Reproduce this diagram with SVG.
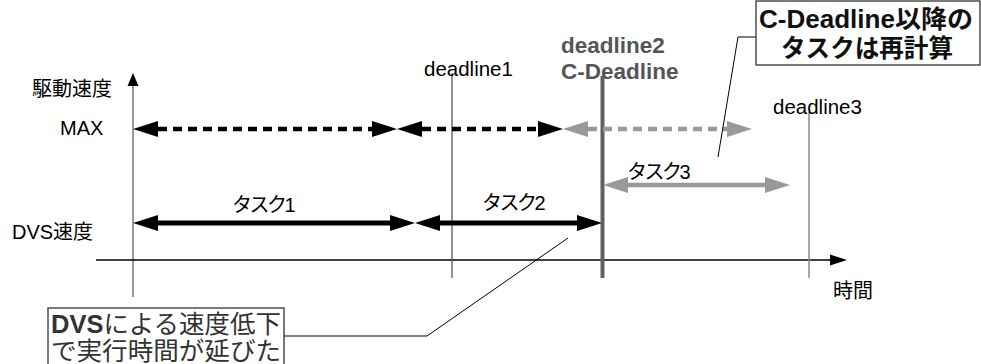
<svg xmlns="http://www.w3.org/2000/svg" width="981" height="364" viewBox="0 0 981 364">
  <style>
    text { font-family: "Liberation Sans", "Noto Sans CJK JP", sans-serif; font-size: 20px; fill: #000; }
    .dl { font-size: 20.5px; }
    .dl2 { font-weight: bold; font-size: 22.5px; fill: #555; }
    .kana { letter-spacing: -2.5px; }
    .note { font-size: 25px; font-weight: bold; fill: #111; }
    .note2 { font-size: 25px; fill: #333; }
    .b { font-weight: bold; }
    .box { fill: #fff; stroke: #333; stroke-width: 1.3; }
    .lead { fill: none; stroke: #000; stroke-width: 1; }
    .solid-k { stroke: #000; stroke-width: 5; fill: none; }
    .solid-g { stroke: #999; stroke-width: 4.5; fill: none; }
    .dash-k { stroke: #000; stroke-width: 4.5; stroke-dasharray: 9 6; fill: none; }
    .dash-g { stroke: #999; stroke-width: 4.5; stroke-dasharray: 9 6; fill: none; }
  </style>
  <defs>
    <marker id="headK" markerUnits="userSpaceOnUse" markerWidth="26" markerHeight="17" refX="0" refY="8" orient="auto-start-reverse" overflow="visible">
      <path d="M0,0 L25,8 L0,16 Z" fill="#000"/>
    </marker>
    <marker id="headG" markerUnits="userSpaceOnUse" markerWidth="26" markerHeight="17" refX="0" refY="8" orient="auto-start-reverse" overflow="visible">
      <path d="M0,0 L25,8 L0,16 Z" fill="#999"/>
    </marker>
    <marker id="axisY" markerUnits="userSpaceOnUse" markerWidth="14" markerHeight="12" refX="0" refY="5.5" orient="auto" overflow="visible">
      <path d="M0,0 L13,5.5 L0,11 Z" fill="#000"/>
    </marker>
    <marker id="axisX" markerUnits="userSpaceOnUse" markerWidth="18" markerHeight="12" refX="0" refY="5.5" orient="auto" overflow="visible">
      <path d="M0,0 L17,5.5 L0,11 Z" fill="#000"/>
    </marker>
  </defs>

  <!-- axes -->
  <g id="axes">
    <line x1="133" y1="297" x2="133" y2="86" stroke="#777" stroke-width="1.5" marker-end="url(#axisY)"/>
    <line x1="96" y1="260" x2="830" y2="260" stroke="#000" stroke-width="1.3" marker-end="url(#axisX)"/>
    <text x="32" y="96">駆動速度</text>
    <text x="60" y="135">MAX</text>
    <text x="12" y="239">DVS速度</text>
    <text x="833" y="298">時間</text>
  </g>

  <!-- deadlines -->
  <g id="deadline1">
    <line x1="452" y1="73" x2="452" y2="278" stroke="#555" stroke-width="1.3"/>
    <text class="dl" x="424" y="76">deadline1</text>
  </g>
  <g id="deadline2">
    <text class="dl2" x="561" y="53">deadline2</text>
    <text class="dl2" x="561" y="79">C-Deadline</text>
    <line x1="602.5" y1="76" x2="602.5" y2="278" stroke="#606060" stroke-width="4"/>
  </g>
  <g id="deadline3">
    <line x1="809" y1="112" x2="809" y2="278" stroke="#888" stroke-width="1.5"/>
    <text class="dl" x="773" y="114">deadline3</text>
  </g>

  <!-- task spans -->
  <g id="connectors">
    <line class="dash-k" x1="158" y1="129" x2="372" y2="129" marker-start="url(#headK)" marker-end="url(#headK)"/>
    <line class="dash-k" x1="422" y1="129" x2="538" y2="129" marker-start="url(#headK)" marker-end="url(#headK)"/>
    <line class="dash-g" x1="588" y1="129" x2="727" y2="129" marker-start="url(#headG)" marker-end="url(#headG)"/>
    <line class="solid-k" x1="158" y1="223" x2="390" y2="223" marker-start="url(#headK)" marker-end="url(#headK)"/>
    <line class="solid-k" x1="440" y1="223" x2="577" y2="223" marker-start="url(#headK)" marker-end="url(#headK)"/>
    <line class="solid-g" x1="628" y1="185" x2="765" y2="185" marker-start="url(#headG)" marker-end="url(#headG)"/>
    <polyline class="lead" points="756,37 738,37 718,157"/>
    <polyline class="lead" points="284,336 427,336 568,238"/>
  </g>

  <g id="task1"><text class="kana" x="232" y="212">タスク1</text></g>
  <g id="task2"><text class="kana" x="482" y="210">タスク2</text></g>
  <g id="task3"><text class="kana" x="627" y="179">タスク3</text></g>

  <!-- callouts -->
  <g id="note-recalc">
    <rect class="box" x="756" y="1" width="224" height="64"/>
    <text class="note" x="759" y="28" textLength="214" lengthAdjust="spacingAndGlyphs">C-Deadline以降の</text>
    <text class="note" x="781" y="57" textLength="172" lengthAdjust="spacingAndGlyphs">タスクは再計算</text>
  </g>
  <g id="note-dvs">
    <rect class="box" x="48" y="308" width="236" height="62"/>
    <text class="note2" x="51" y="333" textLength="230" lengthAdjust="spacingAndGlyphs"><tspan class="b">DVS</tspan>による速度低下</text>
    <text class="note2" x="51" y="360" textLength="230" lengthAdjust="spacingAndGlyphs">で実行時間が延びた</text>
  </g>
</svg>
